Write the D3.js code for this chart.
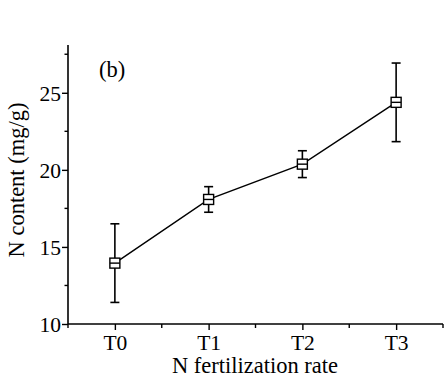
<!DOCTYPE html>
<html>
<head>
<meta charset="utf-8">
<script src="https://cdn.jsdelivr.net/npm/d3@7"></script>
<style>
  html, body { margin: 0; padding: 0; background: #fff; }
  svg text { font-family: "Liberation Serif", "Times New Roman", serif; fill: #000; }
</style>
</head>
<body>
<svg id="chart" width="447" height="390"></svg>
<script>
const categories = ["T0", "T1", "T2", "T3"];
const means = [13.95, 18.08, 20.37, 24.38];
const errors = [2.55, 0.83, 0.87, 2.55];
const yTicks = [10, 15, 20, 25];
const yMinorTicks = [12.5, 17.5, 22.5, 27.5];
const panelLabel = "(b)";
const xTitle = "N fertilization rate";
const yTitle = "N content (mg/g)";

(function () {
const svg = d3.select("#chart");
const mLeft = 68, mRight = 443, mTop = 45, mBottom = 324;
const FS = 21.5, TS = 22.5;

const x = d3.scaleLinear().domain([-0.5, 3.5]).range([mLeft, mRight]);
const y = d3.scaleLinear().domain([10, 28.1]).range([mBottom, mTop]);

// Y axis
const yAxis = d3.axisLeft(y).tickValues(yTicks).tickSize(6).tickPadding(1).tickFormat(d3.format("d"));
const gy = svg.append("g").attr("transform", `translate(${mLeft},0)`).call(yAxis);
gy.select(".domain").attr("d", `M0,${mBottom}V${mTop}`).attr("stroke-width", 1.6);
gy.selectAll(".tick line").attr("stroke-width", 1.4);
gy.selectAll(".tick text").attr("font-size", FS).attr("font-family", "Liberation Serif").attr("dy", "0.35em");
gy.selectAll(".minor").data(yMinorTicks).enter().append("line")
  .attr("class", "minor")
  .attr("x1", -3.5).attr("x2", 0).attr("y1", d => y(d)).attr("y2", d => y(d))
  .attr("stroke", "#000").attr("stroke-width", 1.4);

// X axis
const xAxis = d3.axisBottom(x).tickValues(d3.range(categories.length)).tickSize(6).tickPadding(5)
  .tickFormat(i => categories[i]);
const gx = svg.append("g").attr("transform", `translate(0,${mBottom})`).call(xAxis);
gx.select(".domain").attr("d", `M${mLeft},0H${mRight}`).attr("stroke-width", 1.6);
gx.selectAll(".tick line").attr("stroke-width", 1.4);
gx.selectAll(".tick text").attr("font-size", FS).attr("font-family", "Liberation Serif");
gx.selectAll(".minor").data([-0.5, 0.5, 1.5, 2.5, 3.5]).enter().append("line")
  .attr("class", "minor")
  .attr("x1", d => x(d)).attr("x2", d => x(d)).attr("y1", 0).attr("y2", 4)
  .attr("stroke", "#000").attr("stroke-width", 1.4);

// Titles
svg.append("text").attr("x", 255).attr("y", 373)
  .attr("text-anchor", "middle").attr("font-size", TS).text(xTitle);
svg.append("text").attr("transform", `translate(24,180) rotate(-90)`)
  .attr("text-anchor", "middle").attr("font-size", TS).text(yTitle);
svg.append("text").attr("x", 99).attr("y", 77).attr("font-size", TS).text(panelLabel);

// Data
const data = categories.map((c, i) => ({ i, m: means[i], e: errors[i] }));

svg.append("path").datum(data)
  .attr("fill", "none").attr("stroke", "#000").attr("stroke-width", 1.4)
  .attr("d", d3.line().x(d => x(d.i)).y(d => y(d.m)));

const g = svg.selectAll(".pt").data(data).enter().append("g").attr("class", "pt");
g.append("line").attr("x1", d => x(d.i)).attr("x2", d => x(d.i))
  .attr("y1", d => y(d.m - d.e)).attr("y2", d => y(d.m + d.e))
  .attr("stroke", "#000").attr("stroke-width", 1.6);
[-1, 1].forEach(s => {
  g.append("line").attr("x1", d => x(d.i) - 4.5).attr("x2", d => x(d.i) + 4.5)
    .attr("y1", d => y(d.m + s * d.e)).attr("y2", d => y(d.m + s * d.e))
    .attr("stroke", "#000").attr("stroke-width", 1.6);
});
g.append("rect").attr("x", d => x(d.i) - 5).attr("y", d => y(d.m) - 5)
  .attr("width", 10).attr("height", 10)
  .attr("fill", "#fff").attr("stroke", "#000").attr("stroke-width", 1.4);
g.append("line").attr("x1", d => x(d.i) - 5).attr("x2", d => x(d.i) + 5)
  .attr("y1", d => y(d.m)).attr("y2", d => y(d.m))
  .attr("stroke", "#000").attr("stroke-width", 1.4);
})();
</script>
</body>
</html>
